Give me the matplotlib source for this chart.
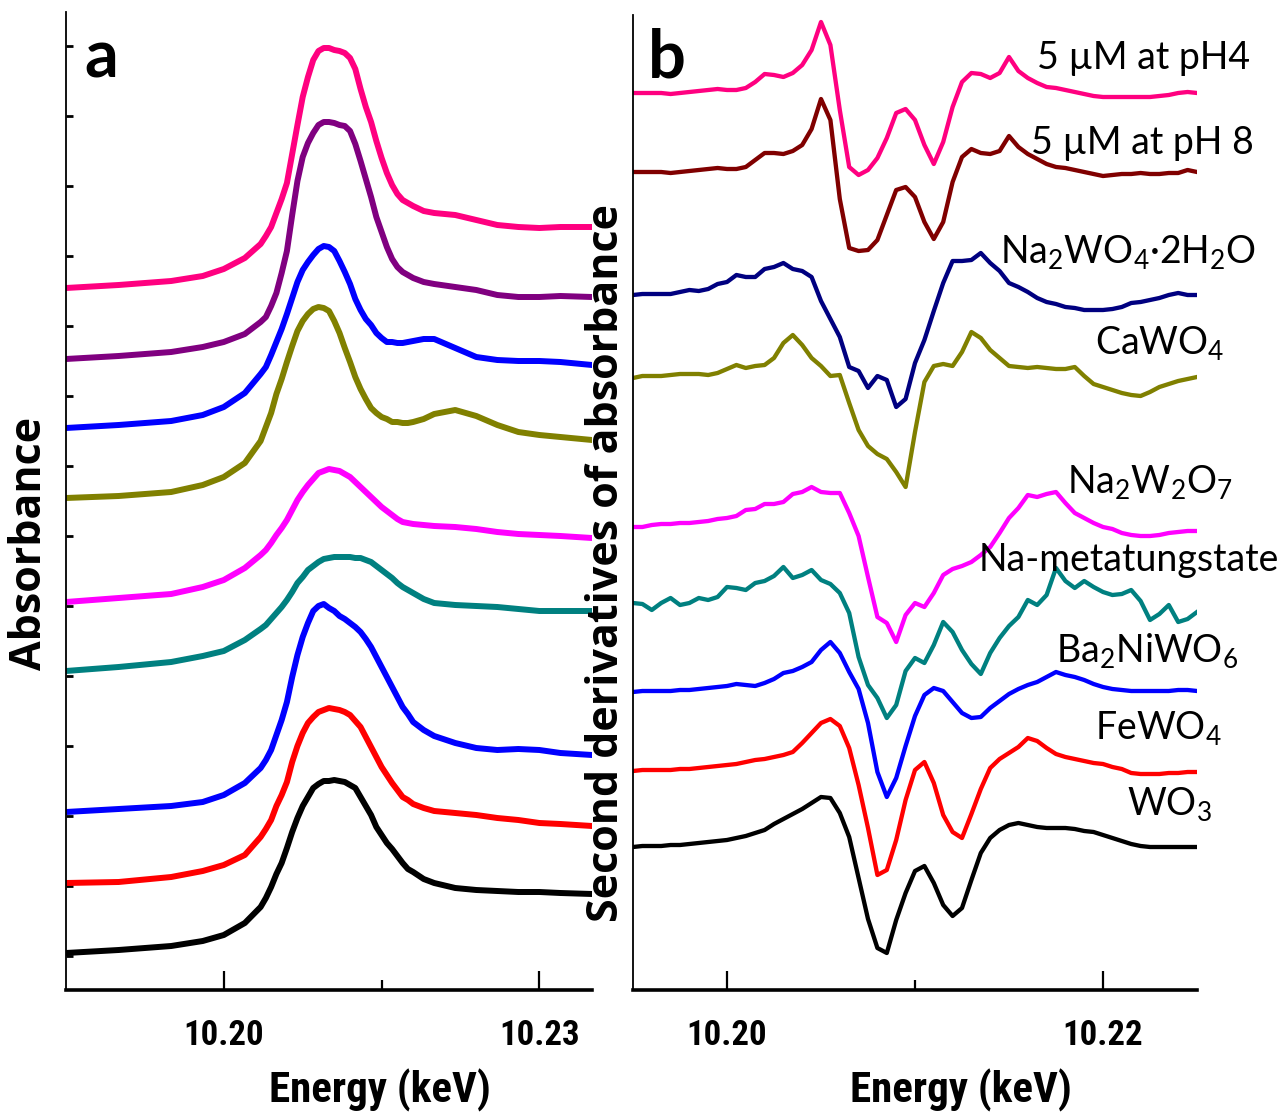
import numpy as np
import matplotlib
matplotlib.use("Agg")
import matplotlib.pyplot as plt
from matplotlib import font_manager
from matplotlib.font_manager import FontProperties

# ---- panel a: W L3-edge XANES, stacked (a.u.) ----
energy_a = [10.185, 10.190, 10.195, 10.198, 10.200, 10.202, 10.2035, 10.204, 10.2045, 10.205,
            10.2055, 10.206, 10.2065, 10.207, 10.2075, 10.208, 10.2085, 10.209, 10.2095, 10.210,
            10.2105, 10.211, 10.2115, 10.212, 10.2125, 10.213, 10.2135, 10.214, 10.2145, 10.215,
            10.2155, 10.216, 10.2165, 10.217, 10.2175, 10.218, 10.219, 10.220, 10.222, 10.224,
            10.226, 10.228, 10.230, 10.232, 10.235]

a_ph4 = [6.68, 6.71, 6.75, 6.80, 6.87, 6.98, 7.12, 7.20, 7.29, 7.43,
         7.57, 7.73, 8.02, 8.31, 8.59, 8.79, 8.96, 9.05, 9.08, 9.08,
         9.06, 9.05, 9.03, 8.98, 8.87, 8.67, 8.49, 8.34, 8.15, 7.98,
         7.83, 7.71, 7.62, 7.56, 7.53, 7.50, 7.45, 7.43, 7.41, 7.36,
         7.31, 7.29, 7.28, 7.29, 7.29]
a_ph8 = [5.97, 6.00, 6.04, 6.09, 6.14, 6.22, 6.34, 6.39, 6.50, 6.63,
         6.83, 7.05, 7.41, 7.75, 7.99, 8.13, 8.23, 8.31, 8.34, 8.34,
         8.33, 8.31, 8.30, 8.25, 8.12, 7.95, 7.77, 7.59, 7.39, 7.24,
         7.09, 6.97, 6.89, 6.84, 6.81, 6.78, 6.74, 6.72, 6.69, 6.66,
         6.61, 6.59, 6.59, 6.60, 6.59]
a_na2wo4 = [5.28, 5.31, 5.35, 5.41, 5.49, 5.63, 5.82, 5.89, 6.01, 6.14,
            6.27, 6.42, 6.58, 6.74, 6.86, 6.94, 7.01, 7.07, 7.10, 7.09,
            7.05, 6.95, 6.84, 6.72, 6.57, 6.46, 6.37, 6.31, 6.23, 6.18,
            6.14, 6.14, 6.13, 6.13, 6.14, 6.15, 6.17, 6.17, 6.08, 5.99,
            5.96, 5.95, 5.95, 5.94, 5.91]
a_cawo4 = [4.58, 4.60, 4.64, 4.71, 4.79, 4.93, 5.15, 5.29, 5.43, 5.62,
           5.77, 5.94, 6.10, 6.25, 6.35, 6.42, 6.47, 6.49, 6.48, 6.45,
           6.35, 6.23, 6.08, 5.94, 5.79, 5.67, 5.57, 5.48, 5.43, 5.39,
           5.37, 5.34, 5.34, 5.33, 5.33, 5.34, 5.37, 5.42, 5.46, 5.40,
           5.31, 5.24, 5.21, 5.19, 5.16]
a_na2w2o7 = [3.54, 3.58, 3.62, 3.69, 3.76, 3.88, 4.01, 4.06, 4.13, 4.21,
             4.28, 4.36, 4.46, 4.56, 4.64, 4.71, 4.77, 4.83, 4.85, 4.87,
             4.86, 4.85, 4.82, 4.79, 4.74, 4.69, 4.64, 4.59, 4.54, 4.49,
             4.45, 4.41, 4.37, 4.34, 4.33, 4.32, 4.31, 4.30, 4.29, 4.27,
             4.24, 4.22, 4.21, 4.20, 4.18]
a_metatung = [2.85, 2.89, 2.94, 3.00, 3.05, 3.16, 3.27, 3.31, 3.37, 3.43,
              3.49, 3.56, 3.64, 3.73, 3.79, 3.86, 3.90, 3.94, 3.97, 3.98,
              3.99, 3.99, 3.99, 3.99, 3.98, 3.98, 3.96, 3.94, 3.90, 3.86,
              3.82, 3.78, 3.73, 3.69, 3.66, 3.63, 3.57, 3.53, 3.51, 3.50,
              3.49, 3.47, 3.45, 3.45, 3.45]
a_ba2niwo6 = [1.44, 1.47, 1.50, 1.54, 1.61, 1.73, 1.88, 1.96, 2.06, 2.21,
              2.36, 2.54, 2.79, 3.01, 3.19, 3.33, 3.45, 3.50, 3.52, 3.48,
              3.45, 3.40, 3.37, 3.33, 3.29, 3.24, 3.17, 3.09, 2.99, 2.89,
              2.79, 2.69, 2.59, 2.49, 2.42, 2.34, 2.26, 2.20, 2.13, 2.08,
              2.06, 2.07, 2.06, 2.03, 2.01]
a_fewo4 = [0.73, 0.74, 0.79, 0.85, 0.91, 1.01, 1.19, 1.27, 1.36, 1.50,
           1.61, 1.74, 1.94, 2.10, 2.23, 2.33, 2.39, 2.44, 2.46, 2.48,
           2.47, 2.46, 2.44, 2.41, 2.35, 2.29, 2.19, 2.09, 1.99, 1.89,
           1.81, 1.73, 1.66, 1.59, 1.56, 1.52, 1.48, 1.45, 1.43, 1.41,
           1.38, 1.36, 1.33, 1.32, 1.30]
a_wo3 = [0.03, 0.06, 0.10, 0.15, 0.21, 0.33, 0.49, 0.58, 0.69, 0.82,
         0.93, 1.08, 1.24, 1.38, 1.50, 1.59, 1.68, 1.72, 1.75, 1.75,
         1.76, 1.75, 1.74, 1.71, 1.68, 1.59, 1.50, 1.41, 1.29, 1.21,
         1.13, 1.07, 1.00, 0.93, 0.87, 0.84, 0.77, 0.73, 0.68, 0.66,
         0.65, 0.64, 0.64, 0.63, 0.62]

# ---- panel b: second derivatives, stacked (a.u.), 0.5 eV steps ----
energy_b = np.linspace(10.195, 10.225, 61)

d2_ph4 = [8.63, 8.63, 8.63, 8.63, 8.62, 8.63, 8.64, 8.65, 8.66, 8.67,
          8.66, 8.66, 8.68, 8.74, 8.82, 8.81, 8.79, 8.83, 8.91, 9.06,
          9.34, 9.11, 8.46, 7.89, 7.81, 7.86, 7.98, 8.18, 8.43, 8.47,
          8.36, 8.11, 7.92, 8.14, 8.49, 8.74, 8.83, 8.82, 8.78, 8.83,
          8.99, 8.85, 8.78, 8.73, 8.69, 8.68, 8.66, 8.64, 8.62, 8.60,
          8.59, 8.59, 8.59, 8.59, 8.59, 8.59, 8.60, 8.61, 8.63, 8.64, 8.63]
d2_ph8 = [7.84, 7.84, 7.84, 7.84, 7.83, 7.84, 7.85, 7.86, 7.87, 7.88,
          7.87, 7.87, 7.89, 7.96, 8.03, 8.03, 8.02, 8.05, 8.11, 8.27,
          8.57, 8.36, 7.57, 7.08, 7.05, 7.06, 7.16, 7.41, 7.66, 7.69,
          7.59, 7.34, 7.17, 7.34, 7.74, 7.99, 8.07, 8.03, 8.02, 8.05,
          8.20, 8.09, 8.02, 7.97, 7.92, 7.89, 7.88, 7.86, 7.84, 7.82,
          7.80, 7.81, 7.82, 7.82, 7.83, 7.82, 7.82, 7.83, 7.83, 7.86, 7.84]
d2_na2wo4 = [6.61, 6.62, 6.62, 6.62, 6.62, 6.64, 6.66, 6.65, 6.67, 6.72,
             6.74, 6.81, 6.79, 6.79, 6.87, 6.89, 6.93, 6.87, 6.85, 6.79,
             6.55, 6.37, 6.19, 5.89, 5.85, 5.68, 5.80, 5.76, 5.49, 5.57,
             5.93, 6.16, 6.45, 6.73, 6.95, 6.95, 6.96, 7.03, 6.93, 6.85,
             6.73, 6.69, 6.64, 6.58, 6.54, 6.52, 6.49, 6.48, 6.46, 6.46,
             6.46, 6.47, 6.49, 6.53, 6.54, 6.56, 6.58, 6.61, 6.63, 6.61, 6.61]
d2_cawo4 = [5.78, 5.80, 5.80, 5.80, 5.81, 5.82, 5.82, 5.82, 5.81, 5.83,
            5.87, 5.91, 5.88, 5.90, 5.91, 5.98, 6.13, 6.21, 6.11, 5.98,
            5.90, 5.80, 5.81, 5.53, 5.26, 5.10, 5.02, 4.97, 4.84, 4.69,
            5.24, 5.74, 5.90, 5.92, 5.90, 6.04, 6.24, 6.18, 6.06, 5.98,
            5.90, 5.89, 5.88, 5.89, 5.88, 5.87, 5.87, 5.89, 5.80, 5.72,
            5.69, 5.66, 5.63, 5.61, 5.60, 5.64, 5.69, 5.72, 5.75, 5.77, 5.79]
d2_na2w2o7 = [4.29, 4.29, 4.31, 4.32, 4.32, 4.33, 4.33, 4.34, 4.35, 4.37,
              4.38, 4.40, 4.46, 4.47, 4.52, 4.52, 4.54, 4.62, 4.64, 4.69,
              4.64, 4.63, 4.63, 4.43, 4.20, 3.79, 3.39, 3.33, 3.14, 3.41,
              3.53, 3.49, 3.63, 3.81, 3.87, 3.90, 3.94, 4.01, 4.09, 4.23,
              4.38, 4.48, 4.61, 4.59, 4.62, 4.64, 4.53, 4.43, 4.38, 4.33,
              4.29, 4.27, 4.23, 4.21, 4.20, 4.20, 4.21, 4.23, 4.24, 4.25, 4.25]
d2_metatung = [3.53, 3.52, 3.46, 3.53, 3.58, 3.51, 3.53, 3.58, 3.56, 3.59,
               3.69, 3.68, 3.66, 3.73, 3.75, 3.80, 3.89, 3.78, 3.81, 3.86,
               3.76, 3.72, 3.63, 3.43, 2.99, 2.71, 2.58, 2.38, 2.51, 2.85,
               2.98, 2.93, 3.11, 3.34, 3.24, 3.06, 2.92, 2.82, 3.03, 3.18,
               3.30, 3.39, 3.56, 3.51, 3.61, 3.88, 3.75, 3.68, 3.75, 3.69,
               3.64, 3.61, 3.62, 3.66, 3.55, 3.36, 3.42, 3.51, 3.34, 3.37, 3.44]
d2_ba2niwo6 = [2.64, 2.65, 2.65, 2.65, 2.65, 2.66, 2.66, 2.67, 2.68, 2.69,
               2.70, 2.72, 2.71, 2.70, 2.73, 2.77, 2.83, 2.85, 2.89, 2.94,
               3.06, 3.14, 3.03, 2.84, 2.67, 2.33, 1.84, 1.59, 1.78, 2.10,
               2.40, 2.61, 2.68, 2.65, 2.54, 2.43, 2.38, 2.39, 2.48, 2.55,
               2.62, 2.67, 2.71, 2.74, 2.79, 2.84, 2.81, 2.79, 2.76, 2.72,
               2.69, 2.67, 2.66, 2.65, 2.65, 2.65, 2.65, 2.65, 2.66, 2.66, 2.65]
d2_fewo4 = [1.85, 1.86, 1.86, 1.86, 1.86, 1.87, 1.87, 1.88, 1.89, 1.90,
            1.91, 1.92, 1.94, 1.96, 1.97, 1.99, 2.01, 2.04, 2.13, 2.23,
            2.33, 2.37, 2.30, 2.08, 1.71, 1.28, 0.81, 0.86, 1.16, 1.56,
            1.86, 1.94, 1.73, 1.41, 1.24, 1.18, 1.42, 1.67, 1.88, 1.97,
            2.03, 2.09, 2.18, 2.15, 2.08, 2.02, 1.99, 1.97, 1.95, 1.93,
            1.92, 1.89, 1.87, 1.83, 1.82, 1.82, 1.82, 1.83, 1.83, 1.84, 1.84]
d2_wo3 = [1.09, 1.10, 1.10, 1.10, 1.11, 1.11, 1.12, 1.13, 1.14, 1.15,
          1.16, 1.18, 1.20, 1.23, 1.26, 1.32, 1.37, 1.42, 1.47, 1.53,
          1.59, 1.58, 1.43, 1.19, 0.78, 0.37, 0.08, 0.03, 0.36, 0.63,
          0.85, 0.90, 0.73, 0.51, 0.40, 0.48, 0.76, 1.03, 1.18, 1.26,
          1.31, 1.33, 1.31, 1.29, 1.28, 1.28, 1.28, 1.27, 1.25, 1.24,
          1.21, 1.18, 1.15, 1.12, 1.10, 1.09, 1.09, 1.09, 1.09, 1.09, 1.09]

sample_labels = ['5 µM at pH4', '5 µM at pH 8', r'Na$_2$WO$_4$·2H$_2$O', r'CaWO$_4$',
                 r'Na$_2$W$_2$O$_7$', 'Na-metatungstate', r'Ba$_2$NiWO$_6$', r'FeWO$_4$', r'WO$_3$']

colors_a = ['#ff0080', '#800080', '#0000ff', '#808000', '#ff00ff', '#008080', '#0000ff', '#ff0000', '#000000']
colors_b = ['#ff0080', '#800000', '#000080', '#808000', '#ff00ff', '#008080', '#0000ff', '#ff0000', '#000000']

series_a = [a_ph4, a_ph8, a_na2wo4, a_cawo4, a_na2w2o7, a_metatung, a_ba2niwo6, a_fewo4, a_wo3]
series_b = [d2_ph4, d2_ph8, d2_na2wo4, d2_cawo4, d2_na2w2o7, d2_metatung, d2_ba2niwo6, d2_fewo4, d2_wo3]

# label anchor (axes fraction, right edge / baseline)
label_x = [1.094, 1.101, 1.105, 1.048, 1.064, 1.145, 1.073, 1.044, 1.027]
label_y = [0.945, 0.857, 0.746, 0.652, 0.510, 0.430, 0.336, 0.257, 0.179]


# look for a narrow bold sans for the energy axis text
def find_narrow_bold():
    for want in ('liberation sans narrow', 'roboto condensed', 'open sans condensed', 'roboto'):
        for f in font_manager.fontManager.ttflist:
            w = f.weight if isinstance(f.weight, int) else {'bold': 700}.get(f.weight, 400)
            if f.name.lower() != want or w < 700 or f.style != 'normal':
                continue
            if want == 'roboto' and f.stretch != 'condensed':
                continue
            return f.fname
    return None


narrow_file = find_narrow_bold()
if narrow_file:
    energy_fp = FontProperties(fname=narrow_file, size=31)
    tick_fp = FontProperties(fname=narrow_file, size=25)
else:
    energy_fp = FontProperties(family='Liberation Sans', weight='bold', size=27)
    tick_fp = FontProperties(family='Liberation Sans', weight='bold', size=22)

plt.rcParams['mathtext.default'] = 'regular'

W, H = 1285, 1115
fig = plt.figure(figsize=(W / 100, H / 100), dpi=100)
ax_a = fig.add_axes([66 / W, 125 / H, 526 / W, 978 / H])
ax_b = fig.add_axes([633 / W, 125 / H, 564 / W, 975 / H])

for y, c in zip(series_a, colors_a):
    ax_a.plot(energy_a, y, color=c, lw=4.3)
for y, c in zip(series_b, colors_b):
    ax_b.plot(energy_b, y, color=c, lw=3.1)

ax_a.set_ylim(-0.34, 9.44)
ax_b.set_ylim(-0.34, 9.41)
for ax in (ax_a, ax_b):
    ax.spines['top'].set_visible(False)
    ax.spines['right'].set_visible(False)
    ax.spines['left'].set_linewidth(1.3)
    ax.spines['bottom'].set_linewidth(2.6)
    ax.tick_params(axis='x', which='major', direction='in', length=14, width=1.6, pad=21)
    ax.tick_params(axis='x', which='minor', direction='in', length=7, width=1.6)

ax_a.set_xlim(10.185, 10.235)
ax_a.set_xticks([10.20, 10.23])
ax_a.set_xticks([10.215], minor=True)
ax_a.set_xticklabels(['10.20', '10.23'])
ax_a.set_yticks(np.arange(0, 9.15, 0.7))
ax_a.tick_params(axis='y', direction='in', length=5, width=2, labelleft=False)

ax_b.set_xlim(10.195, 10.225)
ax_b.set_xticks([10.20, 10.22])
ax_b.set_xticks([10.21], minor=True)
ax_b.set_xticklabels(['10.20', '10.22'])
ax_b.set_yticks([])

for ax in (ax_a, ax_b):
    for t in ax.get_xticklabels():
        t.set_fontproperties(tick_fp)

for lab, x, y in zip(sample_labels, label_x, label_y):
    ax_b.text(x, y, lab, transform=ax_b.transAxes, ha='right', va='baseline',
              fontsize=27, family='Lato')

fig.text(84 / W, 1 - 78 / H, 'a', fontsize=48, fontweight='bold', family='Lato', va='baseline')
fig.text(648 / W, 1 - 77 / H, 'b', fontsize=48, fontweight='bold', family='Lato', va='baseline')

fig.text(30 / W, 1 - 543 / H, 'Absorbance', rotation=90, ha='center', va='center',
         fontsize=31, fontweight='bold', family='Open Sans')
fig.text(607 / W, 1 - 563 / H, 'Second derivatives of absorbance', rotation=90, ha='center', va='center',
         fontsize=31, fontweight='bold', family='Open Sans')
fig.text(380 / W, 1 - 1103 / H, 'Energy (keV)', ha='center', va='baseline', fontproperties=energy_fp)
fig.text(961 / W, 1 - 1102 / H, 'Energy (keV)', ha='center', va='baseline', fontproperties=energy_fp)

fig.savefig('out.png', dpi=100)
